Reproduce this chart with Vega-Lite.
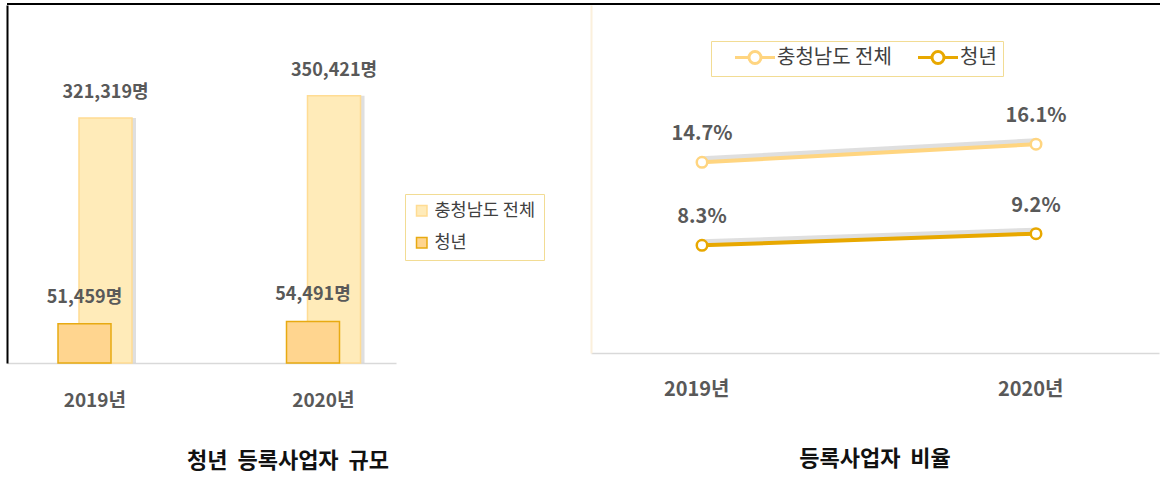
{
  "$schema": "https://vega.github.io/schema/vega-lite/v6.json",
  "padding": {"left": 6, "top": 2, "right": 0, "bottom": 0},
  "background": "white",
  "spacing": 0,
  "config": {
    "font": "Noto Sans CJK KR",
    "view": {"stroke": null},
    "axis": {"labelFont": "Noto Sans CJK KR", "labelFontWeight": "bold", "labelColor": "#595959"},
    "legend": {"labelFont": "Noto Sans CJK KR"}
  },
  "datasets": {
    "frame": [{"edge": "top"}],
    "scale": [
      {"year": "2019년", "series": "충청남도 전체", "value": 321319, "label": "321,319명"},
      {"year": "2020년", "series": "충청남도 전체", "value": 350421, "label": "350,421명"},
      {"year": "2019년", "series": "청년", "value": 51459, "label": "51,459명"},
      {"year": "2020년", "series": "청년", "value": 54491, "label": "54,491명"}
    ],
    "ratio": [
      {"year": "2019년", "series": "충청남도 전체", "rate": 14.7, "label": "14.7%"},
      {"year": "2020년", "series": "충청남도 전체", "rate": 16.1, "label": "16.1%"},
      {"year": "2019년", "series": "청년", "rate": 8.3, "label": "8.3%"},
      {"year": "2020년", "series": "청년", "rate": 9.2, "label": "9.2%"}
    ]
  },
  "vconcat": [
    {
      "width": 1154,
      "height": 2,
      "data": {"name": "frame"},
      "mark": {"type": "rule", "color": "#000000", "strokeWidth": 2},
      "encoding": {"y": {"datum": 0, "type": "quantitative", "scale": {"domain": [0, 1], "nice": false}, "axis": null}}
    },
    {
      "spacing": 0,
      "resolve": {
        "scale": {"color": "independent", "fill": "independent", "stroke": "independent", "y": "independent", "x": "independent"},
        "legend": {"color": "independent", "fill": "independent", "stroke": "independent"}
      },
      "hconcat": [
        {
          "width": 584,
          "height": 358,
          "data": {"name": "scale"},
          "title": {"text": "청년\u00a0\u00a0등록사업자\u00a0\u00a0규모", "orient": "bottom", "anchor": "middle", "fontSize": 22, "fontWeight": "bold", "color": "#111111", "offset": 41, "dx": -11},
          "layer": [
            {
              "transform": [{"filter": "datum.series === '충청남도 전체'"}],
              "mark": {"type": "bar", "width": 53, "xOffset": 14.5, "color": "#c9c9c9", "opacity": 0.6},
              "encoding": {
                "x": {"field": "year", "type": "nominal"},
                "y": {"field": "value", "type": "quantitative"}
              }
            },
            {
              "transform": [{"filter": "datum.series === '충청남도 전체'"}],
              "mark": {"type": "bar", "width": 53, "xOffset": 10.5, "strokeWidth": 1.5},
              "encoding": {
                "x": {
                  "field": "year", "type": "nominal",
                  "scale": {"range": [0, 389], "paddingInner": 0.5, "paddingOuter": 0.1012, "align": 0.6676},
                  "axis": {"title": null, "domainColor": "#D9D9D9", "domainWidth": 1.5, "ticks": false, "tickSize": 0, "labelPadding": 37, "labelOffset": 31, "labelFontSize": 19, "labelAngle": 0, "grid": false}
                },
                "y": {
                  "field": "value", "type": "quantitative",
                  "scale": {"domain": [0, 469500], "nice": false},
                  "axis": {"orient": "left", "title": null, "labels": false, "ticks": false, "grid": false, "domainColor": "#000000", "domainWidth": 2}
                },
                "fill": {
                  "field": "series", "type": "nominal",
                  "scale": {"domain": ["충청남도 전체", "청년"], "range": ["#FFEBB9", "#FFD58F"]},
                  "legend": {"orient": "none", "legendX": 398, "legendY": 189, "direction": "vertical", "columns": 1, "title": null, "symbolType": "square", "symbolSize": 110, "symbolStrokeWidth": 1.5, "labelFontSize": 17.5, "labelColor": "#404040", "labelFontWeight": "normal", "rowPadding": 13, "padding": 8, "strokeColor": "#F2DC94", "labelOffset": 4}
                },
                "stroke": {
                  "field": "series", "type": "nominal",
                  "scale": {"domain": ["충청남도 전체", "청년"], "range": ["#FFDC93", "#E8AA12"]},
                  "legend": {"orient": "none", "legendX": 398, "legendY": 189, "direction": "vertical", "columns": 1, "title": null, "symbolType": "square", "symbolSize": 110, "symbolStrokeWidth": 1.5, "labelFontSize": 17.5, "labelColor": "#404040", "labelFontWeight": "normal", "rowPadding": 13, "padding": 8, "strokeColor": "#F2DC94", "labelOffset": 4}
                }
              }
            },
            {
              "transform": [{"filter": "datum.series === '청년'"}],
              "mark": {"type": "bar", "width": 53, "xOffset": -10.5, "strokeWidth": 1.5},
              "encoding": {
                "x": {"field": "year", "type": "nominal"},
                "y": {"field": "value", "type": "quantitative"},
                "fill": {"field": "series", "type": "nominal"},
                "stroke": {"field": "series", "type": "nominal"}
              }
            },
            {
              "transform": [{"filter": "datum.series === '충청남도 전체'"}],
              "mark": {"type": "text", "xOffset": 10.5, "dy": -25, "fontSize": 18, "fontWeight": "bold", "color": "#595959", "baseline": "middle", "align": "center"},
              "encoding": {
                "x": {"field": "year", "type": "nominal"},
                "y": {"field": "value", "type": "quantitative"},
                "text": {"field": "label"}
              }
            },
            {
              "transform": [{"filter": "datum.series === '청년'"}],
              "mark": {"type": "text", "xOffset": -10.5, "dy": -26, "fontSize": 18, "fontWeight": "bold", "color": "#595959", "baseline": "middle", "align": "center"},
              "encoding": {
                "x": {"field": "year", "type": "nominal"},
                "y": {"field": "value", "type": "quantitative"},
                "text": {"field": "label"}
              }
            }
          ]
        },
        {
          "width": 568,
          "height": 348,
          "data": {"name": "ratio"},
          "title": {"text": "등록사업자\u00a0\u00a0비율", "orient": "bottom", "anchor": "middle", "fontSize": 22, "fontWeight": "bold", "color": "#111111", "offset": 50},
          "layer": [
            {
              "mark": {"type": "line", "color": "#c4c4c4", "strokeWidth": 6, "opacity": 0.55, "yOffset": -3},
              "encoding": {
                "x": {"field": "year", "type": "nominal"},
                "y": {"field": "rate", "type": "quantitative"},
                "detail": {"field": "series"}
              }
            },
            {
              "mark": {"type": "line", "strokeWidth": 4},
              "encoding": {
                "x": {
                  "field": "year", "type": "nominal",
                  "scale": {"type": "band", "paddingInner": 0.5, "paddingOuter": 0.1003, "align": 0.4104},
                  "axis": {"title": null, "domainColor": "#D9D9D9", "domainWidth": 1.5, "ticks": false, "tickSize": 0, "labelPadding": 36, "labelOffset": 27.5, "labelFontSize": 20, "labelAngle": 0, "grid": false}
                },
                "y": {
                  "field": "rate", "type": "quantitative",
                  "scale": {"domain": [0, 26.83], "nice": false},
                  "axis": {"orient": "left", "title": null, "labels": false, "ticks": false, "grid": false, "domainColor": "#FBF0DC", "domainWidth": 2}
                },
                "color": {
                  "field": "series", "type": "nominal",
                  "scale": {"domain": ["충청남도 전체", "청년"], "range": ["#FFD580", "#E8A800"]},
                  "legend": {"orient": "none", "legendX": 120, "legendY": 36, "direction": "horizontal", "title": null, "symbolType": "M1,0H2.75M4.25,0H6M2.75,0A0.75,0.75,0,1,1,4.25,0A0.75,0.75,0,1,1,2.75,0", "symbolSize": 256, "symbolStrokeWidth": 3, "symbolFillColor": "white", "labelFontSize": 20, "labelColor": "#404040", "labelFontWeight": "normal", "columnPadding": 8, "labelOffset": 40, "padding": 6, "strokeColor": "#F2DC94"}
                }
              }
            },
            {
              "mark": {"type": "point", "filled": false, "fill": "white", "fillOpacity": 1, "opacity": 1, "size": 110, "strokeWidth": 2.5},
              "encoding": {
                "x": {"field": "year", "type": "nominal"},
                "y": {"field": "rate", "type": "quantitative"},
                "color": {"field": "series", "type": "nominal"}
              }
            },
            {
              "mark": {"type": "text", "dy": -28, "fontSize": 20, "fontWeight": "bold", "color": "#595959", "baseline": "middle", "align": "center"},
              "encoding": {
                "x": {"field": "year", "type": "nominal"},
                "y": {"field": "rate", "type": "quantitative"},
                "text": {"field": "label"}
              }
            }
          ]
        }
      ]
    }
  ]
}
